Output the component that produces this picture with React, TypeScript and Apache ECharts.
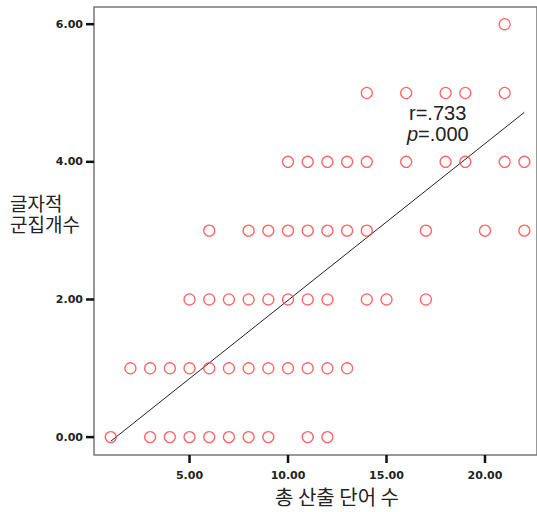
import React, { useEffect, useRef } from "react";
import * as echarts from "echarts";

// x = 총 산출 단어 수, grouped by 글자적 군집개수 level
const xAtCluster0 = [1, 3, 4, 5, 6, 7, 8, 9, 11, 12];
const xAtCluster1 = [2, 3, 4, 5, 6, 7, 8, 9, 10, 11, 12, 13];
const xAtCluster2 = [5, 6, 7, 8, 9, 10, 11, 12, 14, 15, 17];
const xAtCluster3 = [6, 8, 9, 10, 11, 12, 13, 14, 17, 20, 22];
const xAtCluster4 = [10, 11, 12, 13, 14, 16, 18, 19, 21, 22];
const xAtCluster5 = [14, 16, 18, 19, 21];
const xAtCluster6 = [21];
const clusterLevels = [0, 1, 2, 3, 4, 5, 6];

const fitLineX = [1, 22];
const fitLineY = [-0.06, 4.72];

const xTicks = [5, 10, 15, 20];
const yTicks = [0, 2, 4, 6];

const statR = "r=.733";
const statP = "=.000";
const xTitle = "총 산출 단어 수";
const yTitleLine1 = "글자적";
const yTitleLine2 = "군집개수";

const X_MIN = 0.15;
const X_MAX = 22.64;
const Y_MIN = -0.26;
const Y_MAX = 6.25;

export default function App() {
  const ref = useRef<HTMLDivElement>(null);
  useEffect(() => {
    if (!ref.current) return;
    const chart = echarts.init(ref.current, null, { renderer: "svg" });
    const groups = [xAtCluster0, xAtCluster1, xAtCluster2, xAtCluster3, xAtCluster4, xAtCluster5, xAtCluster6];
    const points: number[][] = [];
    groups.forEach((arr, i) => arr.forEach((x) => points.push([x, clusterLevels[i]])));
    const fitData = fitLineX.map((x, i) => [x, fitLineY[i]]);
    const valStyle = {
      fontFamily: "DejaVu Sans",
      fontWeight: "bold" as const,
      fontSize: 11,
      color: "#222",
      verticalAlign: "middle" as const,
    };
    chart.setOption({
      animation: false,
      backgroundColor: "#fff",
      grid: {
        left: 94,
        top: 7,
        right: -2,
        bottom: 57,
        show: true,
        borderColor: "#777",
        borderWidth: 1.5,
        containLabel: false,
      },
      xAxis: {
        type: "value",
        min: X_MIN,
        max: X_MAX,
        splitLine: { show: false },
        axisLine: { show: false, onZero: false },
        axisTick: { show: false },
        axisLabel: {
          margin: 0,
          customValues: xTicks,
          formatter: (v: number) => "{t|}\n{v|" + v.toFixed(2) + "}",
          rich: {
            t: { width: 2.5, height: 8, lineHeight: 8, backgroundColor: "#111" },
            v: { ...valStyle, lineHeight: 25 },
          },
        },
      },
      yAxis: {
        type: "value",
        min: Y_MIN,
        max: Y_MAX,
        splitLine: { show: false },
        axisLine: { show: false, onZero: false },
        axisTick: { show: false },
        axisLabel: {
          margin: 0,
          customValues: yTicks,
          formatter: (v: number) => "{v|" + v.toFixed(2) + "}{g|}{t|}",
          rich: {
            v: { ...valStyle, lineHeight: 12 },
            g: { width: 3, height: 2.5 },
            t: { width: 8, height: 2.5, backgroundColor: "#111", verticalAlign: "middle" },
          },
        },
      },
      series: [
        {
          type: "line",
          data: fitData,
          symbol: "none",
          lineStyle: { color: "#222", width: 1 },
          z: 1,
        },
        {
          type: "scatter",
          data: points,
          symbol: "circle",
          symbolSize: 11,
          itemStyle: { color: "rgba(255,255,255,0)", borderColor: "#ff4040", borderWidth: 1.3 },
          z: 2,
        },
      ],
      graphic: [
        {
          type: "text",
          left: 409,
          top: 103,
          style: { text: statR, font: '20px "Liberation Sans"', fill: "#222" },
        },
        {
          type: "text",
          left: 407,
          top: 124,
          style: {
            text: "{i|p}" + statP,
            font: '20px "Liberation Sans"',
            fill: "#222",
            rich: { i: { fontStyle: "italic", fontSize: 20, fontFamily: "Liberation Sans" } },
          },
        },
        {
          type: "text",
          left: 10,
          top: 193,
          style: { text: yTitleLine1, font: '19px "Noto Sans CJK KR"', lineHeight: 19, fill: "#222" },
        },
        {
          type: "text",
          left: 10,
          top: 214,
          style: { text: yTitleLine2, font: '19px "Noto Sans CJK KR"', lineHeight: 19, fill: "#222" },
        },
        {
          type: "text",
          x: 337,
          y: 496,
          style: {
            text: xTitle,
            font: '20px "Noto Sans CJK KR"',
            fill: "#222",
            align: "center",
            verticalAlign: "middle",
          },
        },
      ],
    });
    return () => chart.dispose();
  }, []);
  return <div ref={ref} style={{ position: "fixed", left: 0, top: 0, width: 537, height: 512 }} />;
}
